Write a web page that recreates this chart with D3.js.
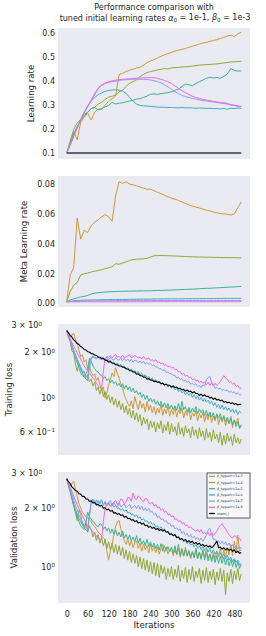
<!DOCTYPE html>
<html>
<head>
<meta charset="utf-8">
<script src="https://cdn.jsdelivr.net/npm/d3@7"></script>
<style>
body { margin: 0; background: #fff; }
svg { display: block; font-family: "DejaVu Sans", sans-serif; }
</style>
</head>
<body>
<svg id="svg" width="266" height="636"></svg>
<script>
// iterations for the rate panels (every 10th)
var iters = [0,10,20,30,40,50,60,70,80,90,
	100,110,120,130,140,150,160,170,180,190,
	200,210,220,230,240,250,260,270,280,290,
	300,310,320,330,340,350,360,370,380,390,
	400,410,420,430,440,450,460,470,480,490,
	500];
// iterations for the loss panels (every 5th)
var lossIters = [0,5,10,15,20,25,30,35,40,45,
	50,55,60,65,70,75,80,85,90,95,
	100,105,110,115,120,125,130,135,140,145,
	150,155,160,165,170,175,180,185,190,195,
	200,205,210,215,220,225,230,235,240,245,
	250,255,260,265,270,275,280,285,290,295,
	300,305,310,315,320,325,330,335,340,345,
	350,355,360,365,370,375,380,385,390,395,
	400,405,410,415,420,425,430,435,440,445,
	450,455,460,465,470,475,480,485,490,495,
	500];

var names = ["_hyperlr=1e-3", "_hyperlr=1e-4", "_hyperlr=1e-5", "_hyperlr=1e-6", "_hyperlr=1e-7", "_hyperlr=1e-8", "maml_l"];

// learning rate
var lrB3 = [0.100,0.135,0.190,0.155,0.228,0.250,0.265,0.238,0.270,0.284,
	0.281,0.300,0.316,0.326,0.338,0.428,0.433,0.440,0.446,0.450,
	0.455,0.458,0.467,0.477,0.485,0.490,0.496,0.504,0.510,0.515,
	0.520,0.526,0.529,0.533,0.537,0.541,0.546,0.550,0.555,0.559,
	0.562,0.566,0.570,0.573,0.578,0.583,0.588,0.592,0.586,0.597,
	0.605];
var lrB4 = [0.100,0.150,0.198,0.226,0.240,0.262,0.270,0.286,0.291,0.304,
	0.311,0.324,0.333,0.337,0.342,0.355,0.362,0.378,0.391,0.398,
	0.406,0.419,0.428,0.436,0.440,0.443,0.447,0.450,0.452,0.451,
	0.455,0.457,0.457,0.459,0.460,0.461,0.463,0.465,0.467,0.468,
	0.469,0.470,0.471,0.472,0.474,0.476,0.478,0.480,0.481,0.482,
	0.483];
var lrB5 = [0.100,0.140,0.180,0.210,0.235,0.255,0.270,0.285,0.290,0.280,
	0.286,0.293,0.298,0.312,0.305,0.308,0.310,0.314,0.317,0.320,
	0.325,0.327,0.332,0.338,0.345,0.347,0.345,0.348,0.350,0.352,
	0.356,0.362,0.366,0.378,0.388,0.385,0.381,0.390,0.398,0.405,
	0.412,0.416,0.414,0.415,0.412,0.420,0.430,0.452,0.445,0.442,
	0.443];
var lrB6 = [0.100,0.136,0.172,0.207,0.240,0.270,0.297,0.317,0.332,0.343,
	0.351,0.357,0.361,0.363,0.364,0.363,0.359,0.349,0.332,0.316,
	0.304,0.299,0.297,0.296,0.295,0.293,0.292,0.291,0.291,0.290,
	0.290,0.289,0.289,0.290,0.288,0.289,0.288,0.287,0.288,0.287,
	0.286,0.287,0.285,0.286,0.284,0.286,0.283,0.287,0.285,0.288,
	0.286];
var lrB7 = [0.100,0.134,0.170,0.205,0.238,0.268,0.294,0.318,0.343,0.368,
	0.383,0.390,0.395,0.398,0.400,0.403,0.405,0.406,0.407,0.408,
	0.408,0.408,0.408,0.407,0.405,0.402,0.398,0.393,0.385,0.376,
	0.366,0.356,0.348,0.341,0.336,0.332,0.328,0.325,0.322,0.319,
	0.317,0.315,0.313,0.311,0.309,0.307,0.304,0.301,0.298,0.295,
	0.293];
var lrB8 = [0.100,0.134,0.170,0.205,0.238,0.268,0.294,0.322,0.349,0.371,
	0.385,0.392,0.397,0.401,0.404,0.406,0.408,0.409,0.410,0.411,
	0.412,0.413,0.414,0.415,0.415,0.414,0.412,0.408,0.403,0.397,
	0.390,0.380,0.370,0.360,0.352,0.344,0.337,0.332,0.328,0.324,
	0.321,0.319,0.316,0.313,0.311,0.310,0.307,0.302,0.300,0.297,
	0.294];
var lrMaml = [0.1,0.1,0.1,0.1,0.1,0.1,0.1,0.1,0.1,0.1,
	0.1,0.1,0.1,0.1,0.1,0.1,0.1,0.1,0.1,0.1,
	0.1,0.1,0.1,0.1,0.1,0.1,0.1,0.1,0.1,0.1,
	0.1,0.1,0.1,0.1,0.1,0.1,0.1,0.1,0.1,0.1,
	0.1,0.1,0.1,0.1,0.1,0.1,0.1,0.1,0.1,0.1,
	0.1];

// meta learning rate
var metaB3 = [0.0015,0.0190,0.0240,0.0570,0.0430,0.0490,0.0475,0.0520,0.0545,0.0560,
	0.0580,0.0595,0.0580,0.0550,0.0720,0.0815,0.0805,0.0815,0.0800,0.0795,
	0.0788,0.0780,0.0772,0.0765,0.0766,0.0755,0.0745,0.0735,0.0725,0.0715,
	0.0705,0.0698,0.0690,0.0680,0.0670,0.0660,0.0652,0.0645,0.0640,0.0632,
	0.0625,0.0620,0.0612,0.0607,0.0602,0.0600,0.0597,0.0592,0.0600,0.0640,
	0.0680];
var metaB4 = [0.0010,0.0080,0.0120,0.0140,0.0190,0.0198,0.0202,0.0210,0.0215,0.0220,
	0.0225,0.0232,0.0238,0.0245,0.0265,0.0262,0.0270,0.0278,0.0287,0.0293,
	0.0296,0.0297,0.0298,0.0302,0.0310,0.0318,0.0320,0.0320,0.0320,0.0319,
	0.0318,0.0317,0.0316,0.0315,0.0314,0.0313,0.0312,0.0311,0.0310,0.0310,
	0.0309,0.0309,0.0308,0.0308,0.0307,0.0307,0.0306,0.0306,0.0306,0.0305,
	0.0305];
var metaB5 = [0.0010,0.0022,0.0030,0.0036,0.0042,0.0046,0.0053,0.0062,0.0068,0.0071,
	0.0073,0.0075,0.0077,0.0078,0.0079,0.0080,0.0080,0.0081,0.0081,0.0082,
	0.0082,0.0083,0.0083,0.0084,0.0084,0.0085,0.0086,0.0086,0.0087,0.0088,
	0.0089,0.0090,0.0091,0.0092,0.0093,0.0094,0.0095,0.0096,0.0098,0.0099,
	0.0100,0.0101,0.0102,0.0104,0.0105,0.0106,0.0108,0.0109,0.0110,0.0112,
	0.0113];
var metaB6 = [0.0010,0.0014,0.0017,0.0019,0.0020,0.0021,0.0022,0.0022,0.0023,0.0023,
	0.0024,0.0024,0.0025,0.0025,0.0025,0.0026,0.0026,0.0026,0.0027,0.0027,
	0.0027,0.0028,0.0028,0.0028,0.0028,0.0029,0.0029,0.0029,0.0029,0.0030,
	0.0030,0.0030,0.0030,0.0030,0.0031,0.0031,0.0031,0.0031,0.0031,0.0032,
	0.0032,0.0032,0.0032,0.0032,0.0032,0.0033,0.0033,0.0033,0.0033,0.0033,
	0.0033];
var metaB7 = [0.0010,0.0012,0.0013,0.0014,0.0015,0.0015,0.0016,0.0016,0.0016,0.0017,
	0.0017,0.0017,0.0017,0.0017,0.0018,0.0018,0.0018,0.0018,0.0018,0.0018,
	0.0018,0.0018,0.0018,0.0019,0.0019,0.0019,0.0019,0.0019,0.0019,0.0019,
	0.0019,0.0019,0.0019,0.0019,0.0019,0.0019,0.0019,0.0019,0.0019,0.0019,
	0.0019,0.0019,0.0019,0.0019,0.0019,0.0019,0.0019,0.0019,0.0019,0.0019,
	0.0019];
var metaB8 = [0.0010,0.0010,0.0010,0.0010,0.0010,0.0010,0.0010,0.0010,0.0010,0.0010,
	0.0010,0.0010,0.0010,0.0010,0.0010,0.0010,0.0010,0.0010,0.0010,0.0010,
	0.0010,0.0010,0.0010,0.0010,0.0010,0.0011,0.0011,0.0011,0.0011,0.0011,
	0.0011,0.0011,0.0011,0.0011,0.0011,0.0011,0.0011,0.0011,0.0011,0.0011,
	0.0011,0.0011,0.0011,0.0011,0.0011,0.0011,0.0011,0.0011,0.0011,0.0011,
	0.0011];

// training loss
var trainB3 = [2.76,2.62,2.50,2.58,2.66,2.40,2.28,2.05,1.86,1.92,
	1.72,1.78,1.56,1.62,1.48,1.40,1.44,1.30,1.36,1.22,
	1.12,1.18,1.00,1.08,1.22,1.32,1.46,1.38,1.58,1.45,
	1.35,1.24,1.16,1.05,0.98,0.92,0.88,0.96,0.85,1.02,
	0.92,0.84,0.96,0.86,0.92,0.81,0.95,0.83,0.90,0.80,
	0.88,0.78,0.86,0.80,0.91,0.77,0.85,0.79,0.88,0.76,
	0.84,0.78,0.87,0.75,0.83,0.79,0.86,0.74,0.82,0.77,
	0.84,0.72,0.80,0.76,0.83,0.71,0.79,0.74,0.81,0.70,
	0.78,0.72,0.80,0.69,0.76,0.71,0.79,0.67,0.75,0.70,
	0.77,0.66,0.73,0.68,0.76,0.64,0.72,0.67,0.74,0.63,
	0.66];
var trainB4 = [2.76,2.48,2.35,2.02,2.00,1.66,1.50,1.68,1.58,1.46,
	1.50,1.36,1.42,1.28,1.33,1.20,1.27,1.12,1.18,1.06,
	1.16,1.02,1.10,0.98,1.05,0.93,1.02,0.90,0.99,0.87,
	0.96,0.84,0.92,0.80,0.89,0.78,0.86,0.74,0.83,0.72,
	0.80,0.70,0.78,0.66,0.75,0.68,0.73,0.62,0.71,0.64,
	0.70,0.60,0.69,0.63,0.71,0.59,0.67,0.61,0.70,0.58,
	0.68,0.60,0.65,0.57,0.69,0.58,0.64,0.56,0.66,0.59,
	0.63,0.55,0.65,0.57,0.62,0.54,0.64,0.56,0.61,0.53,
	0.63,0.55,0.60,0.52,0.62,0.54,0.58,0.51,0.60,0.49,
	0.57,0.50,0.59,0.52,0.56,0.49,0.58,0.51,0.55,0.50,
	0.54];
var trainB5 = [2.76,2.58,2.40,2.18,2.00,1.84,1.70,1.58,1.46,1.40,
	1.38,1.44,1.52,1.82,1.74,1.62,1.56,1.50,1.48,1.42,
	1.41,1.35,1.38,1.30,1.34,1.26,1.31,1.24,1.28,1.20,
	1.25,1.18,1.24,1.15,1.21,1.13,1.19,1.10,1.16,1.08,
	1.12,1.05,1.09,1.01,1.06,0.98,1.04,0.95,1.00,0.94,
	0.98,0.91,0.96,0.89,0.95,0.87,0.93,0.86,0.92,0.85,
	0.90,0.84,0.89,0.83,0.92,0.82,0.95,0.84,0.88,0.81,
	0.87,0.80,0.86,0.81,0.88,0.79,0.85,0.80,0.84,0.77,
	0.83,0.76,0.81,0.75,0.80,0.73,0.78,0.74,0.79,0.71,
	0.76,0.70,0.75,0.68,0.74,0.67,0.72,0.65,0.70,0.64,
	0.67];
var trainB6 = [2.76,2.55,2.35,2.20,2.05,1.90,1.78,1.66,1.55,1.46,
	1.38,1.33,1.30,1.75,1.84,1.88,1.85,1.82,1.87,1.81,
	1.80,1.84,1.78,1.80,1.74,1.77,1.70,1.72,1.66,1.69,
	1.63,1.66,1.60,1.62,1.55,1.58,1.52,1.55,1.49,1.51,
	1.46,1.49,1.42,1.45,1.39,1.42,1.36,1.38,1.32,1.35,
	1.29,1.32,1.26,1.29,1.23,1.26,1.21,1.24,1.18,1.21,
	1.16,1.19,1.13,1.16,1.10,1.14,1.08,1.11,1.05,1.09,
	1.04,1.08,1.01,1.05,0.99,1.03,0.97,1.01,0.95,0.99,
	0.94,0.97,0.92,0.95,0.89,0.93,0.87,0.91,0.85,0.90,
	0.84,0.88,0.83,0.86,0.81,0.85,0.80,0.84,0.78,0.82,
	0.80];
var trainB7 = [2.76,2.58,2.40,2.22,2.06,1.92,1.80,1.70,1.60,1.52,
	1.45,1.40,1.36,1.55,1.80,1.86,1.83,1.80,1.86,1.79,
	1.86,1.80,1.82,1.85,1.78,1.84,1.79,1.77,1.84,1.78,
	1.77,1.83,1.75,1.81,1.75,1.80,1.73,1.79,1.72,1.77,
	1.76,1.70,1.75,1.69,1.74,1.67,1.71,1.66,1.68,1.63,
	1.65,1.59,1.60,1.55,1.56,1.51,1.53,1.47,1.48,1.44,
	1.44,1.40,1.41,1.35,1.37,1.32,1.34,1.29,1.31,1.27,
	1.29,1.23,1.25,1.22,1.24,1.19,1.21,1.17,1.22,1.20,
	1.31,1.36,1.39,1.27,1.23,1.16,1.17,1.15,1.16,1.12,
	1.14,1.11,1.13,1.09,1.11,1.08,1.10,1.06,1.08,1.05,
	1.05];
var trainB8 = [2.76,2.60,2.45,2.30,2.18,2.08,1.98,1.88,1.80,1.70,
	1.62,1.56,1.50,1.45,1.40,1.35,1.30,1.25,1.20,1.17,
	1.16,1.50,1.82,1.87,1.85,1.90,1.83,1.89,1.92,1.85,
	1.87,1.84,1.91,1.83,1.86,1.89,1.92,1.84,1.86,1.90,
	1.87,1.83,1.86,1.80,1.87,1.81,1.80,1.83,1.76,1.78,
	1.74,1.78,1.71,1.72,1.67,1.70,1.63,1.66,1.60,1.62,
	1.57,1.59,1.53,1.54,1.48,1.49,1.43,1.45,1.39,1.41,
	1.36,1.37,1.32,1.34,1.29,1.31,1.26,1.29,1.25,1.27,
	1.22,1.27,1.21,1.26,1.20,1.25,1.21,1.24,1.28,1.34,
	1.40,1.35,1.33,1.27,1.28,1.23,1.25,1.19,1.21,1.16,
	1.16];
var trainMaml = [2.76,2.67,2.57,2.50,2.40,2.35,2.27,2.24,2.17,2.14,
	2.08,2.06,2.01,2.00,1.95,1.95,1.91,1.90,1.85,1.85,
	1.81,1.81,1.77,1.76,1.72,1.73,1.69,1.69,1.65,1.65,
	1.62,1.62,1.59,1.59,1.55,1.55,1.51,1.51,1.48,1.48,
	1.43,1.44,1.40,1.40,1.37,1.37,1.33,1.34,1.31,1.31,
	1.28,1.29,1.27,1.27,1.24,1.25,1.22,1.23,1.21,1.21,
	1.18,1.20,1.17,1.18,1.15,1.16,1.13,1.14,1.11,1.13,
	1.10,1.11,1.08,1.10,1.07,1.07,1.04,1.06,1.03,1.05,
	1.02,1.03,1.00,1.01,0.98,1.00,0.97,0.98,0.96,0.97,
	0.94,0.95,0.93,0.94,0.92,0.93,0.91,0.92,0.90,0.91,
	0.91];

// validation loss
var valB3 = [2.82,2.70,2.60,2.66,2.74,2.50,2.30,2.10,2.00,1.90,
	1.85,1.80,1.78,1.74,1.70,1.64,1.60,1.56,1.50,1.47,
	1.44,1.40,1.38,1.20,1.08,1.20,1.30,1.45,1.60,1.70,
	1.72,1.56,1.45,1.36,1.30,1.38,1.28,1.36,1.25,1.33,
	1.35,1.24,1.32,1.20,1.30,1.22,1.28,1.18,1.30,1.20,
	1.28,1.18,1.26,1.16,1.24,1.30,1.18,1.26,1.16,1.22,
	1.24,1.14,1.22,1.15,1.25,1.12,1.21,1.13,1.26,1.15,
	1.20,1.10,1.18,1.12,1.22,1.10,1.18,1.11,1.20,1.12,
	1.22,1.10,1.16,1.08,1.18,1.10,1.20,1.12,1.24,1.10,
	1.22,1.12,1.25,1.15,1.30,1.14,1.35,1.18,1.45,1.20,
	1.22];
var valB4 = [2.82,2.60,2.40,2.20,2.05,1.88,1.72,1.95,1.85,1.66,
	1.60,1.70,1.50,1.62,1.55,1.42,1.50,1.36,1.46,1.32,
	1.40,1.28,1.38,1.24,1.34,1.22,1.32,1.18,1.30,1.16,
	1.28,1.14,1.26,1.10,1.22,1.08,1.20,1.05,1.16,1.04,
	1.14,1.00,1.12,0.98,1.10,0.96,1.08,0.94,1.06,0.92,
	1.05,0.90,1.04,0.88,1.02,0.92,1.00,0.86,0.98,0.89,
	1.00,0.86,0.97,0.88,1.02,0.84,0.96,0.87,0.99,0.83,
	0.97,0.86,1.00,0.84,0.95,0.88,0.98,0.82,0.96,0.85,
	0.99,0.83,0.95,0.86,0.97,0.81,0.94,0.85,0.98,0.84,
	0.96,0.72,0.93,0.84,0.97,0.82,0.95,0.86,0.98,0.85,
	0.92];
var valB5 = [2.82,2.62,2.45,2.25,2.05,1.92,1.80,1.70,1.62,1.58,
	1.55,1.68,1.90,1.80,1.75,1.70,1.68,1.62,1.60,1.66,
	1.64,1.55,1.60,1.52,1.58,1.48,1.56,1.47,1.54,1.44,
	1.50,1.42,1.52,1.40,1.46,1.38,1.45,1.36,1.42,1.34,
	1.44,1.32,1.40,1.30,1.36,1.28,1.38,1.27,1.34,1.26,
	1.32,1.24,1.30,1.22,1.31,1.20,1.28,1.21,1.27,1.19,
	1.26,1.17,1.28,1.16,1.30,1.15,1.24,1.14,1.22,1.13,
	1.21,1.12,1.20,1.11,1.24,1.10,1.19,1.09,1.22,1.08,
	1.18,1.07,1.16,1.06,1.15,1.05,1.14,1.04,1.13,1.04,
	1.12,1.02,1.10,1.01,1.09,1.00,1.08,0.99,1.06,0.98,
	1.03];
var valB6 = [2.82,2.62,2.45,2.26,2.10,1.96,1.85,1.76,1.70,1.63,
	1.58,1.54,1.52,1.85,2.15,2.22,2.16,2.10,2.18,2.10,
	2.18,2.06,2.12,2.05,2.14,2.04,2.10,2.02,2.06,1.98,
	2.00,1.94,1.98,1.92,1.95,1.88,1.90,1.84,1.86,1.80,
	1.84,1.77,1.80,1.73,1.76,1.70,1.72,1.66,1.70,1.64,
	1.66,1.60,1.62,1.56,1.60,1.54,1.56,1.50,1.52,1.47,
	1.48,1.44,1.46,1.40,1.42,1.37,1.40,1.34,1.36,1.31,
	1.34,1.29,1.31,1.26,1.30,1.24,1.28,1.22,1.27,1.21,
	1.25,1.19,1.24,1.17,1.22,1.16,1.20,1.14,1.18,1.12,
	1.16,1.10,1.14,1.08,1.12,1.06,1.10,1.05,1.08,1.02,
	1.04];
var valB7 = [2.82,2.65,2.50,2.34,2.20,2.06,1.95,1.85,1.75,1.68,
	1.62,1.58,1.55,1.80,2.10,2.18,2.10,2.20,2.08,2.16,
	2.20,2.08,2.16,2.06,2.14,2.18,2.04,2.14,2.06,2.02,
	2.12,2.02,2.06,2.10,2.00,2.04,2.08,1.99,2.02,2.06,
	1.98,2.06,1.96,2.04,1.94,2.00,1.93,1.99,1.90,1.92,
	1.84,1.88,1.78,1.81,1.74,1.76,1.70,1.72,1.66,1.67,
	1.60,1.63,1.56,1.58,1.53,1.56,1.48,1.51,1.45,1.48,
	1.42,1.46,1.40,1.43,1.38,1.41,1.36,1.40,1.35,1.39,
	1.45,1.54,1.57,1.47,1.38,1.38,1.33,1.36,1.31,1.35,
	1.30,1.34,1.28,1.32,1.26,1.30,1.25,1.28,1.23,1.27,
	1.23];
var valB8 = [2.82,2.68,2.55,2.42,2.30,2.18,2.08,1.98,1.90,1.82,
	1.75,1.68,1.62,1.58,1.55,1.50,1.47,1.44,1.40,1.38,
	1.38,1.70,2.00,2.08,2.10,2.04,2.05,2.14,2.18,2.08,
	2.12,2.22,2.20,2.10,2.14,2.26,2.25,2.16,2.38,2.24,
	2.20,2.30,2.26,2.18,2.15,2.24,2.22,2.12,2.10,2.14,
	2.04,2.08,2.00,2.02,1.94,1.98,1.90,1.92,1.84,1.86,
	1.80,1.82,1.74,1.76,1.70,1.72,1.66,1.68,1.62,1.63,
	1.58,1.60,1.56,1.54,1.52,1.55,1.50,1.55,1.48,1.50,
	1.46,1.50,1.44,1.50,1.44,1.48,1.52,1.58,1.62,1.66,
	1.60,1.56,1.50,1.46,1.42,1.40,1.44,1.43,1.38,1.40,
	1.35];
var valMaml = [2.82,2.72,2.66,2.56,2.51,2.45,2.43,2.36,2.35,2.29,
	2.29,2.22,2.22,2.16,2.17,2.12,2.13,2.07,2.08,2.04,
	2.06,1.99,2.00,1.95,1.97,1.92,1.94,1.88,1.89,1.85,
	1.87,1.83,1.84,1.79,1.81,1.76,1.77,1.73,1.74,1.70,
	1.72,1.67,1.69,1.65,1.67,1.62,1.63,1.59,1.61,1.57,
	1.59,1.55,1.57,1.53,1.55,1.52,1.54,1.50,1.51,1.46,
	1.47,1.44,1.46,1.41,1.42,1.38,1.39,1.36,1.38,1.34,
	1.36,1.33,1.35,1.31,1.33,1.30,1.32,1.28,1.30,1.27,
	1.29,1.26,1.28,1.25,1.27,1.31,1.35,1.25,1.26,1.23,
	1.25,1.22,1.24,1.21,1.23,1.20,1.22,1.18,1.20,1.17,
	1.18];

var xTicks = [0, 60, 120, 180, 240, 300, 360, 420, 480];
var lrTicks = [0.1, 0.2, 0.3, 0.4, 0.5, 0.6];
var metaTicks = [0, 0.02, 0.04, 0.06, 0.08];
var trainTicks = [3, 2, 1, 0.6];
var valTicks = [3, 2, 1];

var colors = ["#cc9a3a", "#8fa834", "#3bb38b", "#3bb0c4", "#8f9bf5", "#f266ea", "#000000"];

var svg = d3.select("#svg");
var panelTop = [28, 176, 324, 472];
var panelH = 131;
var textColor = "#262626";

var x = d3.scaleLinear().domain([-25, 525]).range([58, 250]);

function MakeSeries(list, xs, blackColor, blackWidth) {
	return list.map(function(v, i) {
		var isBlack = (i == 6);
		return {
			points: v.map(function(d, j){return [xs[j], d];}),
			color: isBlack ? blackColor : colors[i],
			width: isBlack ? blackWidth : 1
		};
	});
}

function DrawPanel(idx, y, series, label, labelX) {
	var g = svg.append("g")
		.attr("transform", "translate(0,"+panelTop[idx]+")");
	g.append("rect")
		.attr("x", 58).attr("y", 0)
		.attr("width", 192).attr("height", panelH)
		.attr("fill", "#eaeaf2");
	g.append("clipPath").attr("id", "clip"+idx)
		.append("rect")
		.attr("x", 58).attr("y", 0)
		.attr("width", 192).attr("height", panelH);

	var line = d3.line()
		.x(function(d){return x(d[0]);})
		.y(function(d){return y(d[1]);});

	g.append("g")
		.attr("clip-path", "url(#clip"+idx+")")
		.selectAll("path").data(series).enter()
		.append("path")
		.attr("d", function(d){return line(d.points);})
		.attr("fill", "none")
		.attr("stroke", function(d){return d.color;})
		.attr("stroke-width", function(d){return d.width;})
		.attr("stroke-linejoin", "round");

	g.append("text")
		.attr("transform", "translate("+labelX+","+(panelH/2)+") rotate(-90)")
		.attr("text-anchor", "middle")
		.attr("dy", "0.35em")
		.attr("font-size", 8.6)
		.attr("fill", textColor)
		.text(label);
	return g;
}

function StyleAxis(a) {
	a.select(".domain").remove();
	a.attr("font-family", null).attr("font-size", null);
	a.selectAll("text").attr("font-size", 8).attr("fill", textColor);
}

// log tick label like 2 x 10^0
function LogLabel(sel) {
	sel.each(function(d) {
		var t = d3.select(this).text("");
		var e = Math.floor(Math.log10(d) + 1e-9);
		var m = Math.round(d / Math.pow(10, e));
		if (m != 1) t.append("tspan").text(m + " \u00d7 10");
		else t.append("tspan").text("10");
		t.append("tspan")
			.attr("dy", "-0.45em")
			.attr("font-size", 5.6)
			.text(e < 0 ? "\u2212" + (-e) : e);
		if (d == 3) t.attr("dx", -13);
	});
}

// panel 1: learning rate
var yLr = d3.scaleLinear().domain([0.075, 0.622]).range([panelH, 0]);
var g1 = DrawPanel(0, yLr, MakeSeries([lrB3, lrB4, lrB5, lrB6, lrB7, lrB8, lrMaml], iters, "#3a3a3a", 1.6), "Learning rate", 31);
g1.append("g").attr("transform", "translate(58,0)")
	.call(d3.axisLeft(yLr).tickValues(lrTicks).tickFormat(d3.format(".1f")).tickSize(0).tickPadding(3))
	.call(StyleAxis);

// panel 2: meta learning rate
var yMeta = d3.scaleLinear().domain([-0.0025, 0.0854]).range([panelH, 0]);
var g2 = DrawPanel(1, yMeta, MakeSeries([metaB3, metaB4, metaB5, metaB6, metaB7, metaB8], iters, "#000", 1), "Meta Learning rate", 24);
g2.append("g").attr("transform", "translate(58,0)")
	.call(d3.axisLeft(yMeta).tickValues(metaTicks).tickFormat(d3.format(".2f")).tickSize(0).tickPadding(3))
	.call(StyleAxis);

// panel 3: training loss
var yTrain = d3.scaleLog().domain([0.424, 3.05]).range([panelH, 0]);
var g3 = DrawPanel(2, yTrain, MakeSeries([trainB3, trainB4, trainB5, trainB6, trainB7, trainB8, trainMaml], lossIters, "#000", 1.1), "Training loss", 9);
var ax3 = g3.append("g").attr("transform", "translate(58,0)")
	.call(d3.axisLeft(yTrain).tickValues(trainTicks).tickSize(0).tickPadding(3))
	.call(StyleAxis);
ax3.selectAll(".tick text").call(LogLabel);

// panel 4: validation loss
var yVal = d3.scaleLog().domain([0.652, 3.05]).range([panelH, 0]);
var g4 = DrawPanel(3, yVal, MakeSeries([valB3, valB4, valB5, valB6, valB7, valB8, valMaml], lossIters, "#000", 1.1), "Validation loss", 14);
var ax4 = g4.append("g").attr("transform", "translate(58,0)")
	.call(d3.axisLeft(yVal).tickValues(valTicks).tickSize(0).tickPadding(3))
	.call(StyleAxis);
ax4.selectAll(".tick text").call(LogLabel);

g4.append("g").attr("transform", "translate(0,"+panelH+")")
	.call(d3.axisBottom(x).tickValues(xTicks).tickSize(0).tickPadding(8))
	.call(StyleAxis);
g4.append("text")
	.attr("x", 154).attr("y", panelH + 25)
	.attr("text-anchor", "middle")
	.attr("font-size", 8.6)
	.attr("fill", textColor)
	.text("Iterations");

// legend
var legend = g4.append("g").attr("transform", "translate(207,1)");
legend.append("rect")
	.attr("width", 43).attr("height", 45)
	.attr("fill", "#f8f8fb")
	.attr("stroke", "#333").attr("stroke-width", 0.8);
var items = legend.selectAll(".item").data(names).enter()
	.append("g").attr("class", "item")
	.attr("transform", function(d, i){return "translate(0,"+(3.3 + i*6.2)+")";});
items.append("line")
	.attr("x1", 2).attr("x2", 8)
	.attr("stroke", function(d, i){return i == 6 ? "#000" : colors[i];})
	.attr("stroke-width", 1.3);
items.append("text")
	.attr("x", 10).attr("dy", "0.35em")
	.attr("font-size", 3.3)
	.attr("fill", textColor)
	.each(function(d, i) {
		var t = d3.select(this);
		if (i < 6) t.append("tspan").attr("font-style", "italic").text("\u03b2");
		t.append("tspan").text(d);
	});

// title
var title = svg.append("text")
	.attr("text-anchor", "middle")
	.attr("font-size", 8)
	.attr("fill", textColor);
title.append("tspan").attr("x", 154).attr("y", 10).text("Performance comparison with");
var t2 = title.append("tspan").attr("x", 155).attr("y", 21);
t2.append("tspan").text("tuned initial learning rates ");
t2.append("tspan").attr("font-style", "italic").text("\u03b1");
t2.append("tspan").attr("font-size", 5.6).attr("dy", "0.25em").text("0");
t2.append("tspan").attr("dy", "-0.25em").text(" = 1e-1, ");
t2.append("tspan").attr("font-style", "italic").text("\u03b2");
t2.append("tspan").attr("font-size", 5.6).attr("dy", "0.25em").text("0");
t2.append("tspan").attr("dy", "-0.25em").text(" = 1e-3");
</script>
</body>
</html>
